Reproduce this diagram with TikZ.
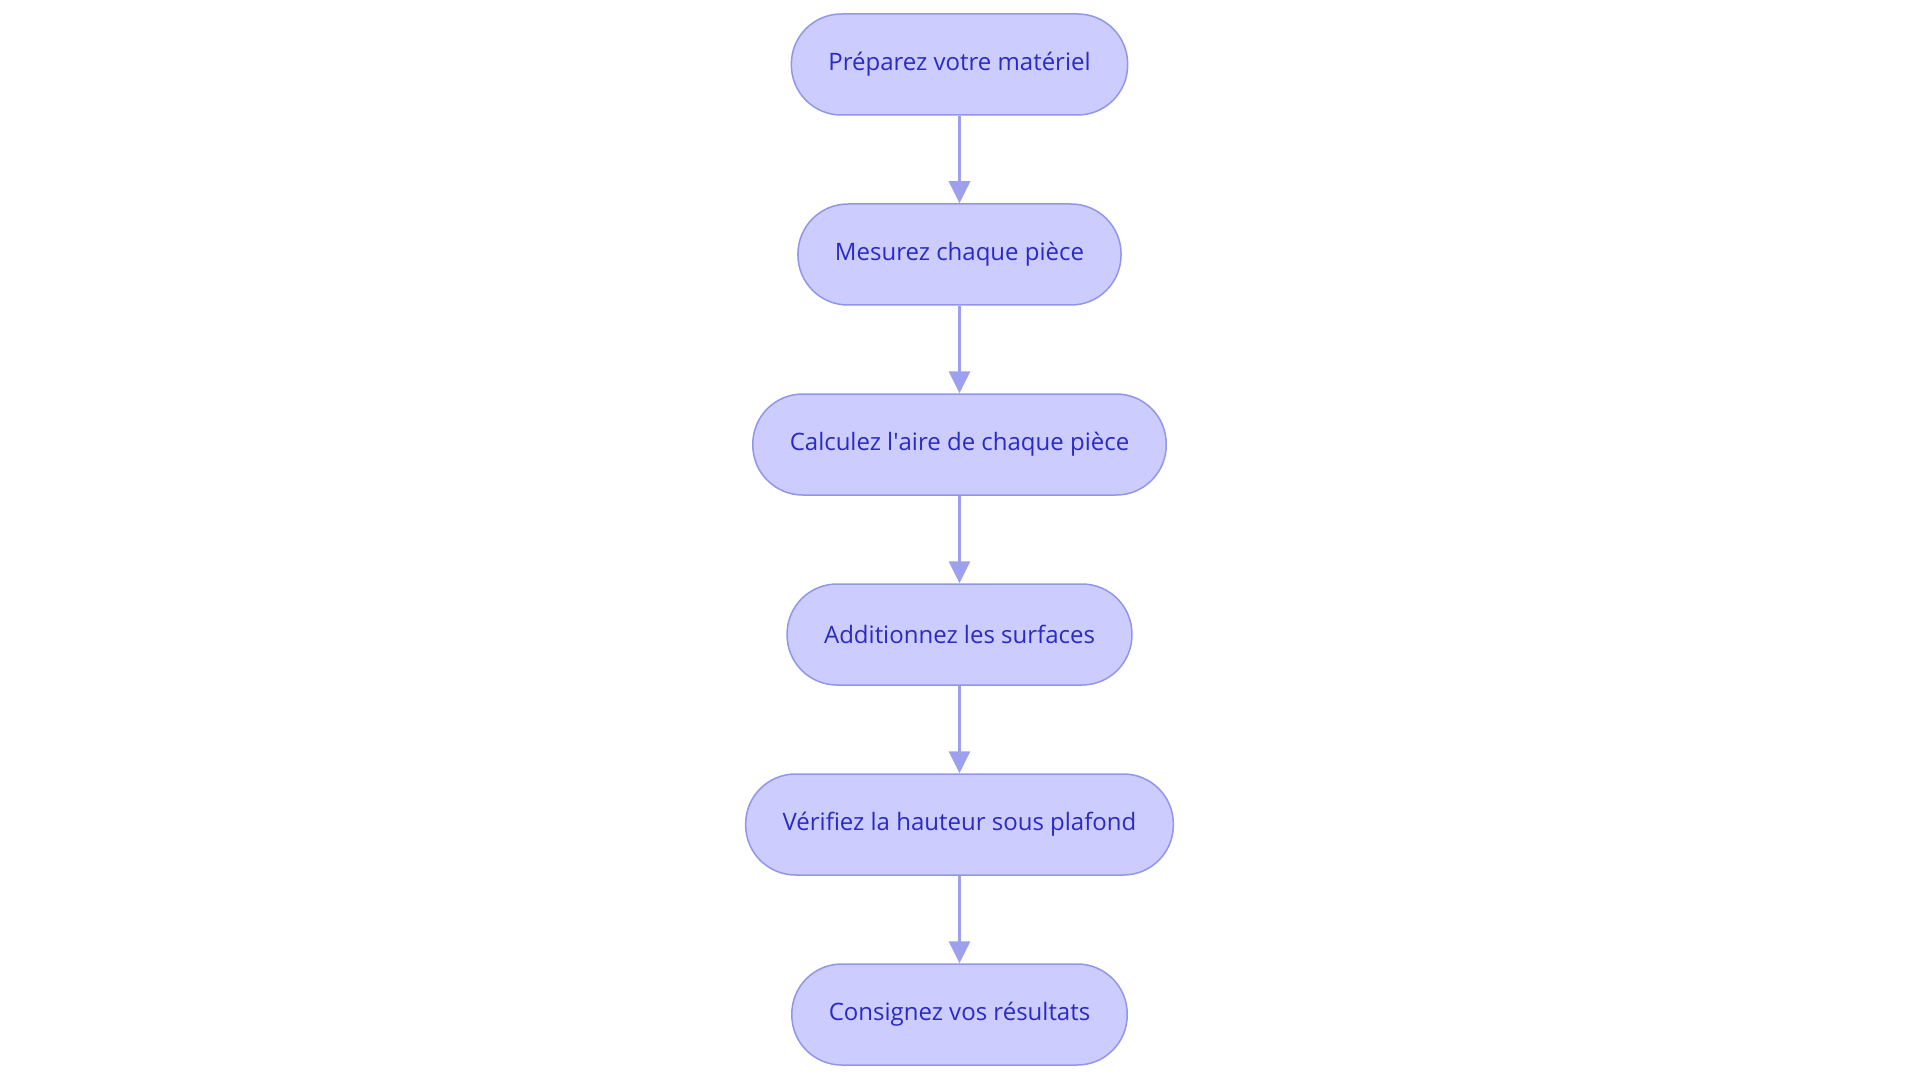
\documentclass[tikz,border=0pt]{standalone}
\usepackage{fontspec}
\setmainfont{Open Sans}
\usetikzlibrary{arrows.meta}
\definecolor{boxfill}{RGB}{204,204,255}
\definecolor{boxline}{RGB}{145,150,236}
\definecolor{boxtext}{RGB}{42,42,196}
\definecolor{arrowline}{RGB}{157,160,238}
\tikzset{
  box/.style={draw=boxline, fill=boxfill, line width=1.5pt, rounded corners=50pt,
    minimum height=101pt, inner xsep=37pt, text=boxtext,
    font=\fontsize{24}{29}\selectfont},
  link/.style={draw=arrowline, line width=3pt, -{Triangle[length=22pt,width=21pt]}}
}
\begin{document}
\begin{tikzpicture}[x=1pt,y=1pt]
\useasboundingbox (0,0) rectangle (1920,-1083);
\node[box] (a) at (959.5,-64.5) {Préparez votre matériel};
\node[box] (b) at (959.5,-254.5) {Mesurez chaque pièce};
\node[box] (c) at (959.5,-444.5) {Calculez l\textquotesingle aire de chaque pièce};
\node[box] (d) at (959.5,-634.5) {Additionnez les surfaces};
\node[box] (e) at (959.5,-824.5) {Vérifiez la hauteur sous plafond};
\node[box] (f) at (959.5,-1014.5) {Consignez vos résultats};
\draw[link] (a) -- (b);
\draw[link] (b) -- (c);
\draw[link] (c) -- (d);
\draw[link] (d) -- (e);
\draw[link] (e) -- (f);
\end{tikzpicture}
\end{document}
